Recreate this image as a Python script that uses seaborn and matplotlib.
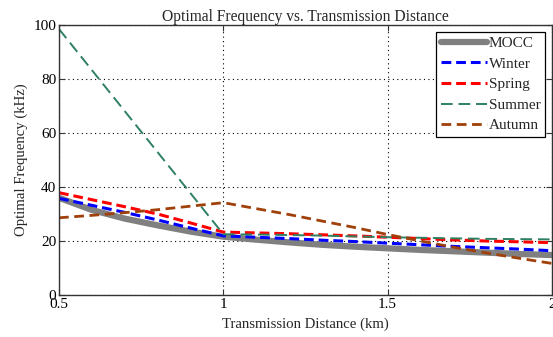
import matplotlib
matplotlib.use("Agg")
import matplotlib.pyplot as plt
import seaborn as sns
import pandas as pd

distance_km = [0.5, 0.6, 0.7, 0.8, 0.9, 1.0, 1.1, 1.2, 1.3, 1.4, 1.5, 1.6, 1.7, 1.8, 1.9, 2.0]
mocc = [36.0, 31.5, 28.3, 25.8, 23.5, 21.6, 20.5, 19.5, 18.6, 17.9, 17.3, 16.7, 16.2, 15.7, 15.2, 14.8]
winter = [35.8, 33.2, 30.6, 27.8, 24.8, 21.9, 21.4, 20.9, 20.3, 19.8, 19.2, 18.6, 18.0, 17.5, 17.0, 16.4]
spring = [37.9, 35.3, 32.7, 30.0, 26.7, 23.3, 23.0, 22.7, 22.3, 21.9, 21.4, 20.9, 20.4, 20.0, 19.7, 19.4]
summer = [98.5, 83.3, 68.1, 52.9, 37.7, 22.5, 22.4, 22.2, 22.0, 21.7, 21.4, 21.2, 21.0, 20.8, 20.7, 20.6]
autumn = [28.6, 29.5, 30.5, 31.6, 32.9, 34.2, 32.0, 29.8, 27.4, 25.0, 22.4, 20.0, 17.7, 15.6, 13.6, 11.7]

series_names = ["MOCC", "Winter", "Spring", "Summer", "Autumn"]
series_values = [mocc, winter, spring, summer, autumn]
x_ticks = [0.5, 1, 1.5, 2]
x_tick_labels = ["0.5", "1", "1.5", "2"]
y_ticks = [0, 20, 40, 60, 80, 100]

rows = []
for name, vals in zip(series_names, series_values):
    for d, v in zip(distance_km, vals):
        rows.append({"Distance": d, "Frequency": v, "Series": name})
df = pd.DataFrame(rows)

sns.set_style("white")
plt.rcParams["font.family"] = ["Liberation Serif", "DejaVu Serif"]

styles = {
    "MOCC": dict(color="#808080", lw=4.5, ls="-"),
    "Winter": dict(color="#0000ff", lw=2.2, ls=(0, (3.2, 1.6))),
    "Spring": dict(color="#ff0000", lw=2.2, ls=(0, (3.2, 1.6))),
    "Summer": dict(color="#2e8062", lw=1.4, ls=(0, (6, 3))),
    "Autumn": dict(color="#a0400a", lw=2.0, ls=(0, (3.5, 2.0))),
}

fig = plt.figure(figsize=(5.53, 3.37), dpi=100)
ax = fig.add_axes([0.1067, 0.1246, 0.8915, 0.8012])

for name in series_names:
    st = styles[name]
    sub = df[df["Series"] == name]
    sns.lineplot(data=sub, x="Distance", y="Frequency", ax=ax, color=st["color"],
                 linewidth=st["lw"], linestyle=st["ls"], label=name, sort=False)

ax.set_xlim(0.5, 2)
ax.set_ylim(0, 100)
ax.set_xticks(x_ticks)
ax.set_xticklabels(x_tick_labels)
ax.set_yticks(y_ticks)
ax.grid(True, linestyle=(0, (1, 3)), color="black", linewidth=0.8)
ax.tick_params(direction="in", length=4, labelsize=11, top=True, right=True,
               bottom=True, left=True, colors="#333333", labelcolor="black", pad=2)
for sp in ax.spines.values():
    sp.set_color("#333333")
    sp.set_linewidth(1.0)

ax.set_xlabel("Transmission Distance (km)", fontsize=10.6, labelpad=5)
ax.set_ylabel("Optimal Frequency (kHz)", fontsize=10.6, labelpad=4)
ax.set_title("Optimal Frequency vs. Transmission Distance", fontsize=11.2, pad=3)

leg = ax.legend(loc="upper right", fontsize=11, frameon=True, fancybox=False,
                edgecolor="black", framealpha=1, handlelength=3.0, handletextpad=0.15,
                labelspacing=0.45, borderpad=0.3, borderaxespad=0.45)
leg.get_frame().set_linewidth(0.9)

fig.savefig("out.png", dpi=100)
